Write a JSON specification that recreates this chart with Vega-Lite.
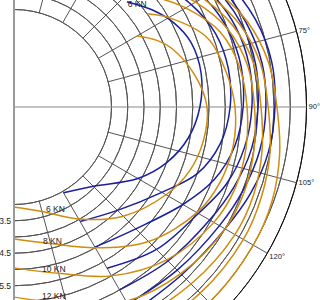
{
  "$schema": "https://vega.github.io/schema/vega-lite/v6.json",
  "width": 320,
  "height": 300,
  "padding": 0,
  "autosize": {"type": "none"},
  "background": "white",
  "config": {"view": {"stroke": null}, "text": {"font": "Liberation Sans", "fontSize": 8.5, "color": "#222"}},
  "datasets": {
    "circles": [{"r": 3}, {"r": 3.5}, {"r": 4}, {"r": 4.5}, {"r": 5}, {"r": 5.5}, {"r": 6}, {"r": 6.5}, {"r": 7}, {"r": 7.5}, {"r": 8}, {"r": 8.5}, {"r": 9}],
    "radials": [
      {"a": 15, "x": 0.776, "y": 2.898, "x2": 2.329, "y2": 8.693},
      {"a": 30, "x": 1.5, "y": 2.598, "x2": 4.5, "y2": 7.794},
      {"a": 45, "x": 2.121, "y": 2.121, "x2": 6.364, "y2": 6.364},
      {"a": 60, "x": 2.598, "y": 1.5, "x2": 7.794, "y2": 4.5},
      {"a": 75, "x": 2.898, "y": 0.776, "x2": 8.693, "y2": 2.329},
      {"a": 105, "x": 2.898, "y": -0.776, "x2": 8.693, "y2": -2.329},
      {"a": 120, "x": 2.598, "y": -1.5, "x2": 7.794, "y2": -4.5},
      {"a": 135, "x": 2.121, "y": -2.121, "x2": 6.364, "y2": -6.364},
      {"a": 150, "x": 1.5, "y": -2.598, "x2": 4.5, "y2": -7.794},
      {"a": 165, "x": 0.776, "y": -2.898, "x2": 2.329, "y2": -8.693}
    ],
    "beam": [{"a": 90, "x": 0, "y": 0, "x2": 9, "y2": 0}],
    "axis0": [{"a": 0, "x": 0, "y": 9, "x2": 0, "y2": -9}],
    "curves": [
      {"b": "A", "w": 6, "a": 47, "x": 3.474, "y": 3.240},
      {"b": "A", "w": 6, "a": 55, "x": 4.260, "y": 2.983},
      {"b": "A", "w": 6, "a": 62, "x": 4.900, "y": 2.606},
      {"b": "A", "w": 6, "a": 70, "x": 5.450, "y": 1.984},
      {"b": "A", "w": 6, "a": 80, "x": 5.761, "y": 1.016},
      {"b": "A", "w": 6, "a": 90, "x": 5.72, "y": 0},
      {"b": "A", "w": 6, "a": 100, "x": 5.367, "y": -0.946},
      {"b": "A", "w": 6, "a": 110, "x": 4.699, "y": -1.710},
      {"b": "A", "w": 6, "a": 120, "x": 3.810, "y": -2.200},
      {"b": "A", "w": 6, "a": 135, "x": 2.439, "y": -2.439},
      {"b": "A", "w": 6, "a": 150, "x": 1.525, "y": -2.641},
      {"b": "A", "w": 8, "a": 45, "x": 3.889, "y": 3.889},
      {"b": "A", "w": 8, "a": 52, "x": 4.689, "y": 3.663},
      {"b": "A", "w": 8, "a": 60, "x": 5.456, "y": 3.15},
      {"b": "A", "w": 8, "a": 70, "x": 6.202, "y": 2.257},
      {"b": "A", "w": 8, "a": 80, "x": 6.598, "y": 1.163},
      {"b": "A", "w": 8, "a": 90, "x": 6.65, "y": 0},
      {"b": "A", "w": 8, "a": 100, "x": 6.352, "y": -1.120},
      {"b": "A", "w": 8, "a": 110, "x": 5.638, "y": -2.052},
      {"b": "A", "w": 8, "a": 120, "x": 4.547, "y": -2.625},
      {"b": "A", "w": 8, "a": 135, "x": 3.182, "y": -3.182},
      {"b": "A", "w": 8, "a": 150, "x": 2.035, "y": -3.525},
      {"b": "A", "w": 10, "a": 43, "x": 4.024, "y": 4.315},
      {"b": "A", "w": 10, "a": 50, "x": 4.864, "y": 4.082},
      {"b": "A", "w": 10, "a": 60, "x": 5.846, "y": 3.375},
      {"b": "A", "w": 10, "a": 70, "x": 6.578, "y": 2.394},
      {"b": "A", "w": 10, "a": 80, "x": 6.992, "y": 1.233},
      {"b": "A", "w": 10, "a": 90, "x": 7.05, "y": 0},
      {"b": "A", "w": 10, "a": 100, "x": 6.795, "y": -1.198},
      {"b": "A", "w": 10, "a": 110, "x": 6.155, "y": -2.240},
      {"b": "A", "w": 10, "a": 120, "x": 5.196, "y": -3.0},
      {"b": "A", "w": 10, "a": 135, "x": 3.748, "y": -3.748},
      {"b": "A", "w": 10, "a": 150, "x": 2.49, "y": -4.313},
      {"b": "A", "w": 12, "a": 42, "x": 4.082, "y": 4.533},
      {"b": "A", "w": 12, "a": 50, "x": 5.056, "y": 4.242},
      {"b": "A", "w": 12, "a": 60, "x": 6.062, "y": 3.5},
      {"b": "A", "w": 12, "a": 70, "x": 6.813, "y": 2.480},
      {"b": "A", "w": 12, "a": 80, "x": 7.238, "y": 1.276},
      {"b": "A", "w": 12, "a": 90, "x": 7.32, "y": 0},
      {"b": "A", "w": 12, "a": 100, "x": 7.091, "y": -1.250},
      {"b": "A", "w": 12, "a": 110, "x": 6.531, "y": -2.377},
      {"b": "A", "w": 12, "a": 120, "x": 5.672, "y": -3.275},
      {"b": "A", "w": 12, "a": 135, "x": 4.384, "y": -4.384},
      {"b": "A", "w": 12, "a": 150, "x": 2.865, "y": -4.962},
      {"b": "A", "w": 14, "a": 41, "x": 4.133, "y": 4.755},
      {"b": "A", "w": 14, "a": 50, "x": 5.209, "y": 4.371},
      {"b": "A", "w": 14, "a": 60, "x": 6.235, "y": 3.6},
      {"b": "A", "w": 14, "a": 70, "x": 7.001, "y": 2.548},
      {"b": "A", "w": 14, "a": 80, "x": 7.435, "y": 1.311},
      {"b": "A", "w": 14, "a": 90, "x": 7.51, "y": 0},
      {"b": "A", "w": 14, "a": 100, "x": 7.307, "y": -1.288},
      {"b": "A", "w": 14, "a": 110, "x": 6.766, "y": -2.462},
      {"b": "A", "w": 14, "a": 120, "x": 6.019, "y": -3.475},
      {"b": "A", "w": 14, "a": 135, "x": 4.738, "y": -4.738},
      {"b": "A", "w": 14, "a": 150, "x": 3.25, "y": -5.629},
      {"b": "A", "w": 16, "a": 40, "x": 4.146, "y": 4.941},
      {"b": "A", "w": 16, "a": 50, "x": 5.324, "y": 4.467},
      {"b": "A", "w": 16, "a": 60, "x": 6.365, "y": 3.675},
      {"b": "A", "w": 16, "a": 70, "x": 7.142, "y": 2.599},
      {"b": "A", "w": 16, "a": 80, "x": 7.632, "y": 1.345},
      {"b": "A", "w": 16, "a": 90, "x": 7.75, "y": 0},
      {"b": "A", "w": 16, "a": 100, "x": 7.563, "y": -1.333},
      {"b": "A", "w": 16, "a": 110, "x": 7.048, "y": -2.565},
      {"b": "A", "w": 16, "a": 120, "x": 6.322, "y": -3.65},
      {"b": "A", "w": 16, "a": 135, "x": 5.020, "y": -5.020},
      {"b": "A", "w": 16, "a": 150, "x": 3.5, "y": -6.062},
      {"b": "A", "w": 20, "a": 40, "x": 4.242, "y": 5.056},
      {"b": "A", "w": 20, "a": 50, "x": 5.477, "y": 4.596},
      {"b": "A", "w": 20, "a": 60, "x": 6.582, "y": 3.8},
      {"b": "A", "w": 20, "a": 70, "x": 7.424, "y": 2.702},
      {"b": "A", "w": 20, "a": 80, "x": 7.928, "y": 1.398},
      {"b": "A", "w": 20, "a": 90, "x": 8.03, "y": 0},
      {"b": "A", "w": 20, "a": 100, "x": 7.829, "y": -1.380},
      {"b": "A", "w": 20, "a": 110, "x": 7.283, "y": -2.651},
      {"b": "A", "w": 20, "a": 120, "x": 6.495, "y": -3.75},
      {"b": "A", "w": 20, "a": 135, "x": 5.162, "y": -5.162},
      {"b": "A", "w": 20, "a": 150, "x": 3.65, "y": -6.322},
      {"b": "B", "w": 6, "a": 60, "x": 3.784, "y": 2.185},
      {"b": "B", "w": 6, "a": 65, "x": 4.396, "y": 2.050},
      {"b": "B", "w": 6, "a": 70, "x": 4.886, "y": 1.778},
      {"b": "B", "w": 6, "a": 80, "x": 5.564, "y": 0.981},
      {"b": "B", "w": 6, "a": 90, "x": 5.94, "y": 0},
      {"b": "B", "w": 6, "a": 100, "x": 5.830, "y": -1.028},
      {"b": "B", "w": 6, "a": 110, "x": 5.403, "y": -1.967},
      {"b": "B", "w": 6, "a": 120, "x": 4.677, "y": -2.7},
      {"b": "B", "w": 6, "a": 135, "x": 3.359, "y": -3.359},
      {"b": "B", "w": 6, "a": 150, "x": 1.99, "y": -3.447},
      {"b": "B", "w": 6, "a": 165, "x": 0.862, "y": -3.216},
      {"b": "B", "w": 6, "a": 180, "x": 0, "y": -3.08},
      {"b": "B", "w": 8, "a": 55, "x": 4.096, "y": 2.868},
      {"b": "B", "w": 8, "a": 60, "x": 4.763, "y": 2.75},
      {"b": "B", "w": 8, "a": 70, "x": 5.920, "y": 2.155},
      {"b": "B", "w": 8, "a": 80, "x": 6.500, "y": 1.146},
      {"b": "B", "w": 8, "a": 90, "x": 6.8, "y": 0},
      {"b": "B", "w": 8, "a": 100, "x": 6.746, "y": -1.189},
      {"b": "B", "w": 8, "a": 110, "x": 6.343, "y": -2.309},
      {"b": "B", "w": 8, "a": 120, "x": 5.629, "y": -3.25},
      {"b": "B", "w": 8, "a": 135, "x": 4.137, "y": -4.137},
      {"b": "B", "w": 8, "a": 150, "x": 2.5, "y": -4.33},
      {"b": "B", "w": 8, "a": 165, "x": 1.126, "y": -4.202},
      {"b": "B", "w": 8, "a": 180, "x": 0, "y": -4.06},
      {"b": "B", "w": 10, "a": 52, "x": 4.334, "y": 3.386},
      {"b": "B", "w": 10, "a": 60, "x": 5.283, "y": 3.05},
      {"b": "B", "w": 10, "a": 70, "x": 6.343, "y": 2.309},
      {"b": "B", "w": 10, "a": 80, "x": 6.943, "y": 1.224},
      {"b": "B", "w": 10, "a": 90, "x": 7.17, "y": 0},
      {"b": "B", "w": 10, "a": 100, "x": 7.140, "y": -1.259},
      {"b": "B", "w": 10, "a": 110, "x": 6.813, "y": -2.480},
      {"b": "B", "w": 10, "a": 120, "x": 6.149, "y": -3.55},
      {"b": "B", "w": 10, "a": 135, "x": 4.702, "y": -4.702},
      {"b": "B", "w": 10, "a": 150, "x": 3.0, "y": -5.196},
      {"b": "B", "w": 10, "a": 165, "x": 1.372, "y": -5.119},
      {"b": "B", "w": 10, "a": 180, "x": 0, "y": -4.95},
      {"b": "B", "w": 12, "a": 50, "x": 4.443, "y": 3.728},
      {"b": "B", "w": 12, "a": 60, "x": 5.586, "y": 3.225},
      {"b": "B", "w": 12, "a": 70, "x": 6.578, "y": 2.394},
      {"b": "B", "w": 12, "a": 80, "x": 7.189, "y": 1.268},
      {"b": "B", "w": 12, "a": 90, "x": 7.4, "y": 0},
      {"b": "B", "w": 12, "a": 100, "x": 7.386, "y": -1.302},
      {"b": "B", "w": 12, "a": 110, "x": 7.095, "y": -2.582},
      {"b": "B", "w": 12, "a": 120, "x": 6.495, "y": -3.75},
      {"b": "B", "w": 12, "a": 135, "x": 5.127, "y": -5.127},
      {"b": "B", "w": 12, "a": 150, "x": 3.45, "y": -5.976},
      {"b": "B", "w": 12, "a": 165, "x": 1.618, "y": -6.037},
      {"b": "B", "w": 12, "a": 180, "x": 0, "y": -5.85},
      {"b": "B", "w": 14, "a": 48, "x": 4.459, "y": 4.015},
      {"b": "B", "w": 14, "a": 60, "x": 5.802, "y": 3.35},
      {"b": "B", "w": 14, "a": 70, "x": 6.766, "y": 2.462},
      {"b": "B", "w": 14, "a": 80, "x": 7.386, "y": 1.302},
      {"b": "B", "w": 14, "a": 90, "x": 7.6, "y": 0},
      {"b": "B", "w": 14, "a": 100, "x": 7.632, "y": -1.346},
      {"b": "B", "w": 14, "a": 110, "x": 7.377, "y": -2.685},
      {"b": "B", "w": 14, "a": 120, "x": 6.798, "y": -3.925},
      {"b": "B", "w": 14, "a": 135, "x": 5.445, "y": -5.445},
      {"b": "B", "w": 14, "a": 150, "x": 3.75, "y": -6.495},
      {"b": "B", "w": 14, "a": 165, "x": 1.786, "y": -6.665},
      {"b": "B", "w": 14, "a": 180, "x": 0, "y": -6.6},
      {"b": "B", "w": 16, "a": 46, "x": 4.424, "y": 4.272},
      {"b": "B", "w": 16, "a": 60, "x": 5.975, "y": 3.45},
      {"b": "B", "w": 16, "a": 70, "x": 6.954, "y": 2.531},
      {"b": "B", "w": 16, "a": 80, "x": 7.583, "y": 1.337},
      {"b": "B", "w": 16, "a": 90, "x": 7.82, "y": 0},
      {"b": "B", "w": 16, "a": 100, "x": 7.878, "y": -1.389},
      {"b": "B", "w": 16, "a": 110, "x": 7.612, "y": -2.770},
      {"b": "B", "w": 16, "a": 120, "x": 7.058, "y": -4.075},
      {"b": "B", "w": 16, "a": 135, "x": 5.728, "y": -5.728},
      {"b": "B", "w": 16, "a": 150, "x": 3.975, "y": -6.885},
      {"b": "B", "w": 16, "a": 165, "x": 1.915, "y": -7.148},
      {"b": "B", "w": 16, "a": 180, "x": 0, "y": -7.2},
      {"b": "B", "w": 20, "a": 45, "x": 4.490, "y": 4.490},
      {"b": "B", "w": 20, "a": 60, "x": 6.192, "y": 3.575},
      {"b": "B", "w": 20, "a": 70, "x": 7.189, "y": 2.616},
      {"b": "B", "w": 20, "a": 80, "x": 7.829, "y": 1.380},
      {"b": "B", "w": 20, "a": 90, "x": 8.09, "y": 0},
      {"b": "B", "w": 20, "a": 100, "x": 8.174, "y": -1.441},
      {"b": "B", "w": 20, "a": 110, "x": 7.941, "y": -2.890},
      {"b": "B", "w": 20, "a": 120, "x": 7.361, "y": -4.25},
      {"b": "B", "w": 20, "a": 135, "x": 6.010, "y": -6.010},
      {"b": "B", "w": 20, "a": 150, "x": 4.2, "y": -7.275},
      {"b": "B", "w": 20, "a": 165, "x": 2.070, "y": -7.727},
      {"b": "B", "w": 20, "a": 180, "x": 0, "y": -7.9}
    ],
    "speedLabels": [{"x": 0, "y": -3.5, "t": "3.5"}, {"x": 0, "y": -4.5, "t": "4.5"}, {"x": 0, "y": -5.5, "t": "5.5"}],
    "angleLabels": [{"x": 8.693, "y": 2.329, "t": "75°"}, {"x": 9, "y": 0, "t": "90°"}, {"x": 8.693, "y": -2.329, "t": "105°"}, {"x": 7.794, "y": -4.6, "t": "120°"}],
    "windLabels": [{"x": 3.5, "y": 3.17, "t": "6 KN"}, {"x": 0.985, "y": -3.14, "t": "6 KN"}, {"x": 0.89, "y": -4.11, "t": "8 KN"}, {"x": 0.86, "y": -4.98, "t": "10 KN"}, {"x": 0.86, "y": -5.82, "t": "12 KN"}]
  },
  "layer": [
    {
      "data": {"name": "circles"},
      "mark": {"type": "arc", "theta": 0, "theta2": 3.14159265, "filled": false, "strokeWidth": 1},
      "encoding": {
        "x": {"datum": 0, "type": "quantitative", "scale": {"domain": [-0.430769, 9.415385], "nice": false, "zero": false}, "axis": null},
        "y": {"datum": 0, "type": "quantitative", "scale": {"domain": [-5.938462, 3.292308], "nice": false, "zero": false}, "axis": null},
        "radius": {"field": "r", "type": "quantitative", "scale": {"type": "linear", "domain": [0, 9], "range": [0, 292.5], "zero": true}},
        "radius2": {"field": "r"},
        "stroke": {"condition": {"test": "datum.r >= 9", "value": "#111111"}, "value": "#555555"}
      }
    },
    {
      "data": {"name": "radials"},
      "mark": {"type": "rule", "stroke": "#555555", "strokeWidth": 1, "clip": true},
      "encoding": {
        "x": {"field": "x", "type": "quantitative"},
        "y": {"field": "y", "type": "quantitative"},
        "x2": {"field": "x2"},
        "y2": {"field": "y2"}
      }
    },
    {
      "data": {"name": "beam"},
      "mark": {"type": "rule", "stroke": "#888888", "strokeWidth": 1.2, "clip": true},
      "encoding": {
        "x": {"field": "x", "type": "quantitative"},
        "y": {"field": "y", "type": "quantitative"},
        "x2": {"field": "x2"},
        "y2": {"field": "y2"}
      }
    },
    {
      "data": {"name": "curves"},
      "mark": {"type": "line", "interpolate": "catmull-rom", "strokeWidth": 1.5, "clip": true},
      "encoding": {
        "x": {"field": "x", "type": "quantitative"},
        "y": {"field": "y", "type": "quantitative"},
        "order": {"field": "a", "type": "quantitative"},
        "detail": {"field": "w", "type": "nominal"},
        "color": {"field": "b", "type": "nominal", "scale": {"domain": ["A", "B"], "range": ["#1a1f9e", "#d08c0c"]}, "legend": null}
      }
    },
    {
      "data": {"name": "axis0"},
      "mark": {"type": "rule", "stroke": "#9a9a9a", "strokeWidth": 2, "clip": true},
      "encoding": {
        "x": {"field": "x", "type": "quantitative"},
        "y": {"field": "y", "type": "quantitative"},
        "x2": {"field": "x2"},
        "y2": {"field": "y2"}
      }
    },
    {
      "data": {"name": "speedLabels"},
      "mark": {"type": "text", "align": "right", "baseline": "middle", "dx": -3},
      "encoding": {
        "x": {"field": "x", "type": "quantitative"},
        "y": {"field": "y", "type": "quantitative"},
        "text": {"field": "t"}
      }
    },
    {
      "data": {"name": "angleLabels"},
      "mark": {"type": "text", "align": "left", "baseline": "middle", "dx": 2, "fontSize": 7.6},
      "encoding": {
        "x": {"field": "x", "type": "quantitative"},
        "y": {"field": "y", "type": "quantitative"},
        "text": {"field": "t"}
      }
    },
    {
      "data": {"name": "windLabels"},
      "mark": {"type": "text", "align": "left", "baseline": "middle"},
      "encoding": {
        "x": {"field": "x", "type": "quantitative"},
        "y": {"field": "y", "type": "quantitative"},
        "text": {"field": "t"}
      }
    }
  ]
}
